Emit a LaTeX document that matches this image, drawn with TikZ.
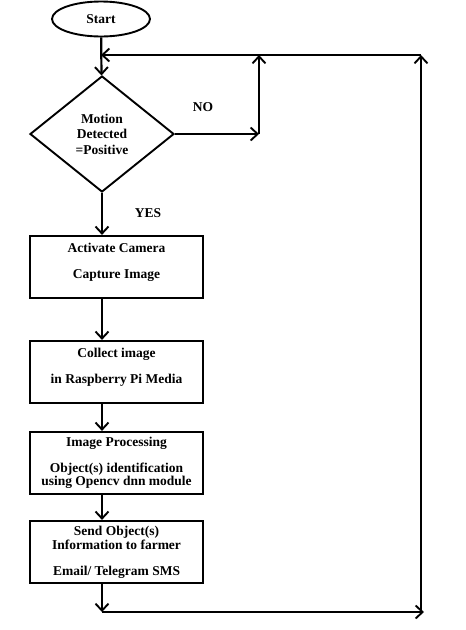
\documentclass[tikz,border=0pt]{standalone}
\usepackage{fontspec}
\setmainfont{Liberation Serif}
\usetikzlibrary{arrows.meta,shapes.geometric,calc}
\tikzset{
  txt/.style={font=\fontsize{13.5}{15.5}\selectfont\bfseries,align=center},
  stepbox/.style={txt,draw,line width=2.2pt,minimum width=173pt,minimum height=62pt,inner sep=2pt},
  term/.style={txt,draw,ellipse,line width=1.9pt,minimum width=98pt,minimum height=35pt,inner sep=0pt},
  decide/.style={txt,draw,diamond,line width=1.9pt,minimum width=144pt,minimum height=116pt,inner sep=0pt,aspect=1.24},
  flow/.style={-{Straight Barb[length=7pt,width=13pt,line width=1.9pt]},line width=2.2pt},
  lab/.style={txt},
}
\begin{document}
\begin{tikzpicture}[x=1pt,y=-1pt]
  \useasboundingbox (0,0) rectangle (466,630);
  % blocks
  \node[term] (start) at (101,19) {Start};
  \node[decide] (dec) at (102,134) {Motion\\Detected\\=Positive};
  \node[stepbox] (act) at (116.5,267) {Activate Camera\\[10pt]Capture Image\\[-3pt]\mbox{}};
  \node[stepbox] (col) at (116.5,372) {Collect image\\[10pt]in Raspberry Pi Media\\[-3pt]\mbox{}};
  \node[stepbox] (proc) at (116.5,463) {Image Processing\\[10pt]Object(s) identification\\[-2pt]using Opencv dnn module};
  \node[stepbox] (send) at (116.5,552) {Send Object(s)\\[-1pt]Information to farmer\\[10pt]Email/ Telegram SMS};
  \node[lab] (no) at (203,107) {NO};
  \node[lab] (yes) at (148,213) {YES};
  % joints of the loop
  \coordinate (merge) at (101,55);
  \coordinate (noJ) at (259,134);
  \coordinate (noTop) at (259,55);
  \coordinate (botL) at (102,612);
  \coordinate (botR) at (424,612);
  \coordinate (topR) at (421,55);
  % main flow
  \draw[flow] (start) -- (dec);
  \draw[flow] (dec.south) -- (act.north -| dec.south);
  \draw[flow] (act.south -| dec.south) -- (col.north -| dec.south);
  \draw[flow] (col.south -| dec.south) -- (proc.north -| dec.south);
  \draw[flow] (proc.south -| dec.south) -- (send.north -| dec.south);
  \draw[flow] (send.south -| dec.south) -- (botL);
  % loop back
  \draw[flow] (dec.east) -- (noJ);
  \draw[flow] (noJ) -- (noTop);
  \draw[flow] (botL) -- (botR);
  \draw[flow] (botR -| topR) -- (topR);
  \draw[flow] (topR) -- (merge);
\end{tikzpicture}
\end{document}
